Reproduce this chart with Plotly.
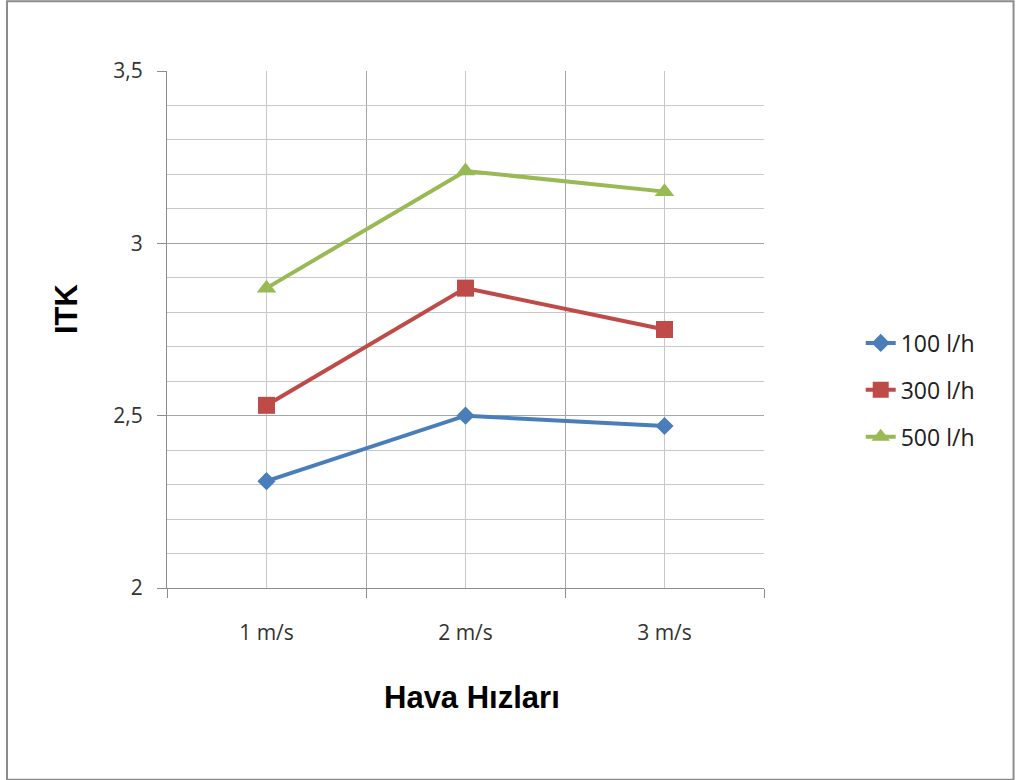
import plotly.graph_objects as go

categories = ["1 m/s", "2 m/s", "3 m/s"]
flow_100 = [2.31, 2.50, 2.47]
flow_300 = [2.53, 2.87, 2.75]
flow_500 = [2.87, 3.21, 3.15]
series_names = ["100 l/h", "300 l/h", "500 l/h"]
y_ticks = [2, 2.5, 3, 3.5]
y_tick_text = ["2", "2,5", "3", "3,5"]
x_title = "Hava Hızları"
y_title = "ITK"

colors = ["#4a7ebb", "#be4b48", "#98b954"]
symbols = ["diamond", "square", "triangle-up"]
sizes = [14, 17, 17]

xpos = list(range(len(categories)))

fig = go.Figure()
for i, (name, vals) in enumerate(zip(series_names, [flow_100, flow_300, flow_500])):
    fig.add_trace(go.Scatter(
        x=xpos, y=vals, name=name, mode="lines+markers",
        legendgroup=name,
        line=dict(color=colors[i], width=4),
        marker=dict(symbol=symbols[i], size=sizes[i], color=colors[i]),
    ))

grid = "#a6a6a6"
title_font = dict(family="Liberation Sans, Arial", size=31, color="black", weight="bold")
fig.update_layout(
    width=1016, height=780,
    margin=dict(l=167, r=252, t=71, b=192),
    paper_bgcolor="white", plot_bgcolor="white",
    font=dict(family="Open Sans, Lato, sans-serif", color="#404040"),
    xaxis=dict(
        range=[-0.5, len(categories) - 0.5],
        tickmode="array", tickvals=xpos, ticktext=categories,
        ticks="", showgrid=True, gridcolor="#c8c8c8", gridwidth=1,
        showline=True, linecolor="#8c8c8c", linewidth=1,
        zeroline=False,
        tickfont=dict(size=21, color="#333333"),
        ticklabelstandoff=26,
        minor=dict(tickvals=[-0.5, 0.5, 1.5, 2.5], showgrid=True,
                   gridcolor=grid, gridwidth=1, ticks="outside",
                   ticklen=9, tickcolor="#8c8c8c"),
    ),
    yaxis=dict(
        range=[2, 3.5],
        tickmode="array", tickvals=y_ticks, ticktext=y_tick_text,
        ticks="outside", ticklen=9, tickcolor="#8c8c8c",
        showgrid=True, gridcolor=grid, gridwidth=1,
        showline=True, linecolor="#8c8c8c", linewidth=1,
        zeroline=False,
        tickfont=dict(size=21, color="#333333"),
        ticklabelstandoff=10,
        minor=dict(dtick=0.1, showgrid=True, gridcolor="#c8c8c8", gridwidth=1),
    ),
    legend=dict(
        x=1.162, y=0.383, xanchor="left", yanchor="middle",
        font=dict(size=23, color="#202020"),
        tracegroupgap=14, itemwidth=30,
        bgcolor="rgba(0,0,0,0)",
    ),
    showlegend=True,
)

# axis titles
fig.add_annotation(text=x_title, xref="paper", yref="paper",
                   x=(472 - 167) / 597, y=-(697 - 588) / 517,
                   xanchor="center", yanchor="middle", showarrow=False,
                   font=title_font)
fig.add_annotation(text=y_title, xref="paper", yref="paper",
                   x=-(167 - 66) / 597, y=(588 - 309) / 517,
                   xanchor="center", yanchor="middle", showarrow=False,
                   textangle=-90, font=title_font)

# outer chart frame
fig.add_shape(type="rect", xref="paper", yref="paper",
              x0=-0.268, x1=1.418, y0=-0.371, y1=1.135,
              line=dict(color="#8c8c8c", width=2), layer="below")

fig.write_html("out.html")
